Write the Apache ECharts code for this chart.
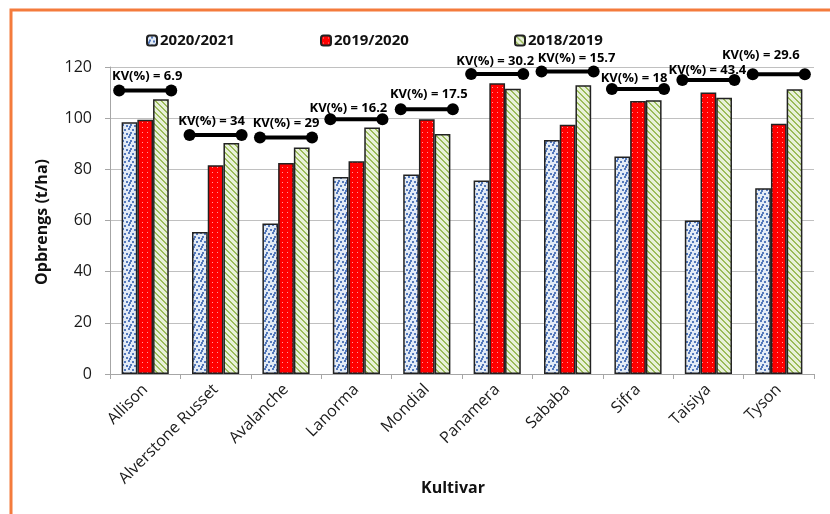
<!DOCTYPE html>
<html>
<head>
<meta charset="utf-8">
<script src="https://cdn.jsdelivr.net/npm/echarts@6/dist/echarts.min.js"></script>
<style>
  html, body { margin: 0; padding: 0; background: #fff; }
  #chart { width: 830px; height: 514px; }
</style>
</head>
<body>
<div id="chart"></div>
<script>
// Yield per cultivar over three seasons, with the coefficient of variation (KV) per cultivar
const cultivars = ['Allison', 'Alverstone Russet', 'Avalanche', 'Lanorma', 'Mondial',
                   'Panamera', 'Sababa', 'Sifra', 'Taisiya', 'Tyson'];
const seasons = ['2020/2021', '2019/2020', '2018/2019'];
const yield2021 = [98.4, 55.5, 58.8, 77.0, 78.0, 75.6, 91.5, 85.0, 60.0, 72.6];
const yield2020 = [99.4, 81.6, 82.5, 83.2, 99.6, 113.6, 97.4, 106.7, 110.0, 97.8];
const yield2019 = [107.4, 90.3, 88.5, 96.4, 93.8, 111.5, 112.9, 107.0, 108.0, 111.3];
const kvPercent = [6.9, 34, 29, 16.2, 17.5, 30.2, 15.7, 18, 43.4, 29.6];
const kvLevel = [110.8, 93.4, 92.4, 99.6, 103.5, 117.3, 118.2, 111.4, 114.9, 117.2];
const yTicks = { min: 0, max: 120, interval: 20 };

// label nudges (px) for the KV captions: [dx, dy] relative to the bar group centre / line
const kvLabelShift = [[2, -14], [-4, -14], [0, -14], [-8, -11], [2, -15],
                      [-2, -13], [9, -13], [-4, -11], [-1, -10], [-18, -19]];

function makeTile(size, draw) {
  const c = document.createElement('canvas');
  c.width = size; c.height = size;
  const g = c.getContext('2d');
  draw(g, size);
  return { image: c, repeat: 'repeat' };
}

const bluePattern = makeTile(8, (g, s) => {
  g.fillStyle = '#E3EBF6'; g.fillRect(0, 0, s, s);
  g.fillStyle = '#5479BC';
  [[0, 0], [4, 1], [2, 4], [6, 5], [1, 6]].forEach(([x, y]) => g.fillRect(x, y, 2, 2));
});
const redPattern = makeTile(5, (g, s) => {
  g.fillStyle = '#FF0000'; g.fillRect(0, 0, s, s);
  g.fillStyle = '#FF9C9C'; g.fillRect(2, 2, 1, 1);
});
const greenPattern = makeTile(6, (g, s) => {
  g.fillStyle = '#E8F1D9'; g.fillRect(0, 0, s, s);
  g.fillStyle = '#9BBB59';
  for (let y = 0; y < s; y++) for (let x = 0; x < s; x++) {
    const d = ((x - y) % s + s) % s;
    if (d === 0 || d === 1) g.fillRect(x, y, 1, 1);
  }
});

const FONT = '"Open Sans", "Noto Sans", sans-serif';
const chart = echarts.init(document.getElementById('chart'), null, { renderer: 'canvas' });

const barStyle = (fill) => ({ color: fill, borderColor: '#222', borderWidth: 1.5 });
const legendBase = {
  top: 33, padding: 0, itemWidth: 10, itemHeight: 10, itemGap: 0,
  textStyle: { fontFamily: FONT, fontSize: 15, fontWeight: 'bold', color: '#111', padding: [0, 0, 0, -2] },
  selectedMode: false
};

const option = {
  backgroundColor: '#fff',
  animation: false,
  graphic: [
    { type: 'polyline', shape: { points: [[11, 514], [11, 10], [830, 10]] },
      style: { stroke: '#F47B3C', lineWidth: 3, fill: null } },
    { type: 'text', x: 42, y: 222, rotation: Math.PI / 2,
      style: { text: 'Opbrengs (t/ha)', font: 'bold 16px ' + FONT, fill: '#111',
               textAlign: 'center', textVerticalAlign: 'middle' } },
    { type: 'text', x: 453, y: 488,
      style: { text: 'Kultivar', font: 'bold 16px ' + FONT, fill: '#111',
               textAlign: 'center', textVerticalAlign: 'middle' } }
  ],
  legend: [
    Object.assign({ left: 146, data: [seasons[0]] }, legendBase),
    Object.assign({ left: 320, data: [seasons[1]] }, legendBase),
    Object.assign({ left: 514, data: [seasons[2]] }, legendBase)
  ],
  grid: { left: 110, right: 16, top: 67, bottom: 140, containLabel: false },
  xAxis: {
    type: 'category',
    data: cultivars,
    boundaryGap: true,
    axisLine: { lineStyle: { color: '#A6A6A6', width: 1 } },
    axisTick: { show: true, length: 5, lineStyle: { color: '#A6A6A6' } },
    axisLabel: { interval: 0, rotate: 45, margin: 13, fontFamily: FONT, fontSize: 16, color: '#1a1a1a' }
  },
  yAxis: {
    type: 'value',
    min: yTicks.min, max: yTicks.max, interval: yTicks.interval,
    axisLine: { show: true, lineStyle: { color: '#A6A6A6', width: 1 } },
    axisTick: { show: true, length: 5, lineStyle: { color: '#A6A6A6' } },
    axisLabel: { margin: 18, fontFamily: FONT, fontSize: 16, color: '#1a1a1a' },
    splitLine: { lineStyle: { color: '#C0C0C0', width: 1 } }
  },
  series: [
    { name: seasons[0], type: 'bar', data: yield2021, itemStyle: barStyle(bluePattern),
      barGap: '0%', barCategoryGap: '33%' },
    { name: seasons[1], type: 'bar', data: yield2020, itemStyle: barStyle(redPattern),
      barGap: '0%', barCategoryGap: '33%' },
    { name: seasons[2], type: 'bar', data: yield2019, itemStyle: barStyle(greenPattern),
      barGap: '0%', barCategoryGap: '33%' },
    {
      name: 'KV', type: 'custom', z: 5,
      data: kvLevel.map((v, i) => [i, v, kvPercent[i]]),
      encode: { x: 0, y: 1 },
      renderItem: function (params, api) {
        const i = api.value(0);
        const p = api.coord([i, api.value(1)]);
        const half = api.size([1, 0])[0] * 0.37;
        const sh = kvLabelShift[i];
        return {
          type: 'group',
          children: [
            { type: 'line', shape: { x1: p[0] - half, y1: p[1], x2: p[0] + half, y2: p[1] },
              style: { stroke: '#000', lineWidth: 4 } },
            { type: 'circle', shape: { cx: p[0] - half, cy: p[1], r: 6 }, style: { fill: '#000' } },
            { type: 'circle', shape: { cx: p[0] + half, cy: p[1], r: 6 }, style: { fill: '#000' } },
            { type: 'text', x: p[0] + sh[0], y: p[1] + sh[1],
              style: { text: 'KV(%) = ' + api.value(2), font: 'bold 13px ' + FONT, fill: '#000',
                       textAlign: 'center', textVerticalAlign: 'middle' } }
          ]
        };
      }
    }
  ]
};

chart.setOption(option);
</script>
</body>
</html>
